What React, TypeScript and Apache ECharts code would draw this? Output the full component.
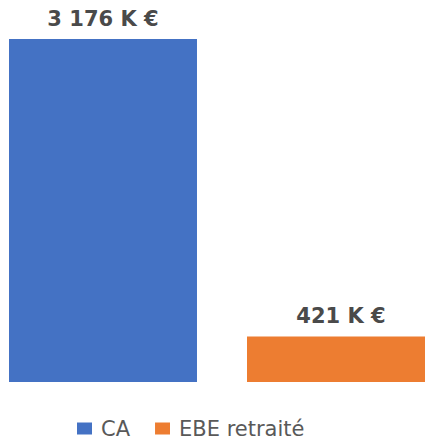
import React, { useEffect, useRef } from "react";
import * as echarts from "echarts";

const seriesNames = ["CA", "EBE retraité"];
const seriesValues = [3176, 421];
const seriesColors = ["#4472C4", "#ED7D31"];
const unitSuffix = " K €";

function fmt(v: number): string {
  return String(v).replace(/\B(?=(\d{3})+(?!\d))/g, " ") + unitSuffix;
}

export default function App() {
  const ref = useRef<HTMLDivElement>(null);
  useEffect(() => {
    if (!ref.current) return;
    const chart = echarts.init(ref.current, null, { renderer: "svg" });
    chart.setOption({
      animation: false,
      grid: { left: 9, right: 10, top: 39, bottom: 57 },
      xAxis: { type: "category", data: [""], show: false },
      yAxis: { type: "value", min: 0, max: 3176, show: false },
      legend: {
        left: 77,
        top: 418,
        padding: 0,
        itemWidth: 15,
        itemHeight: 12,
        itemGap: 25,
        icon: "rect",
        textStyle: {
          fontFamily: "DejaVu Sans",
          fontSize: 21,
          color: "#595959",
          padding: [0, 0, 0, 4],
        },
        data: seriesNames,
      },
      series: seriesNames.map((name, i) => ({
        name,
        type: "bar",
        data: [seriesValues[i]],
        barWidth: 188,
        barGap: "26.6%",
        itemStyle: { color: seriesColors[i] },
        label: {
          show: true,
          position: "top",
          distance: 10,
          fontFamily: "DejaVu Sans",
          fontWeight: "bold",
          fontSize: 21,
          color: "#4a4a4a",
          formatter: (p: any) => fmt(p.value),
        },
      })),
    });
    return () => chart.dispose();
  }, []);
  return (
    <div
      style={{
        position: "absolute",
        left: 0,
        top: 0,
        width: 425,
        height: 439,
        overflow: "hidden",
        background: "#ffffff",
      }}
    >
      <div ref={ref} style={{ width: 445, height: 439 }} />
    </div>
  );
}
